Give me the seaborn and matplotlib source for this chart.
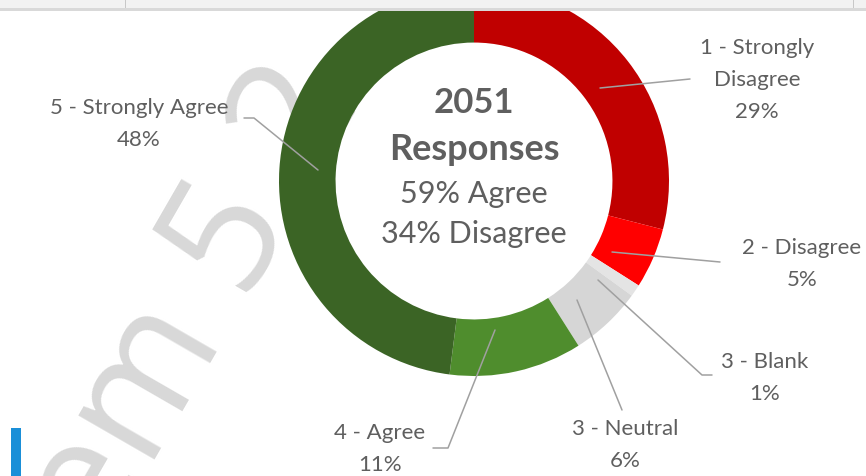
import seaborn as sns
import matplotlib.pyplot as plt
from matplotlib.patches import Rectangle

# survey results, clockwise from 12 o'clock
categories = ['1 - Strongly\nDisagree', '2 - Disagree', '3 - Blank', '3 - Neutral', '4 - Agree', '5 - Strongly Agree']
percents = [29, 5, 1, 6, 11, 48]
colors = ['#C00000', '#FF0000', '#E4E4E4', '#D6D6D6', '#4F8D2D', '#3B6425']
total_responses = 2051
agree_pct = 59
disagree_pct = 34

W, H = 866, 476
sns.set_theme(style='white')
plt.rcParams['font.family'] = ['Lato', 'DejaVu Sans']

fig = plt.figure(figsize=(W / 100, H / 100), dpi=100)
ax = fig.add_axes([0, 0, 1, 1])

def py(y):
    # picture y (from top) -> data y
    return H - y

# watermark behind the chart
ax.text(168, py(351), 'Item 5.2', rotation=60, rotation_mode='anchor',
        ha='center', va='center', fontsize=118, color='#D8D8D8', zorder=0,
        family=['Open Sans', 'DejaVu Sans'])

cx, cy, r = 474, 181, 195
ax.pie(percents, colors=colors, startangle=90, counterclock=False,
       center=(cx, py(cy)), radius=r, frame=True,
       wedgeprops=dict(width=r * 0.29, edgecolor='none', zorder=2))
ax.set_xlim(0, W)
ax.set_ylim(0, H)
ax.set_aspect('equal')
ax.axis('off')

grey = '#5F5F5F'
ax.text(cx, py(103), str(total_responses), ha='center', va='center', fontsize=25, fontweight='bold', color=grey)
ax.text(cx, py(150), 'Responses', ha='center', va='center', fontsize=26, fontweight='bold', color=grey)
ax.text(cx, py(194), f'{agree_pct}% Agree', ha='center', va='center', fontsize=22, color=grey)
ax.text(cx, py(234), f'{disagree_pct}% Disagree', ha='center', va='center', fontsize=22, color=grey)

# labels with leader lines
lab_kw = dict(fontsize=16, color=grey, linespacing=1.75, zorder=4)
line_kw = dict(color='#A0A0A0', lw=1.1, zorder=3)
labels = [f'{c}\n{p}%' for c, p in zip(categories, percents)]

ax.text(757, py(80), labels[0], ha='center', va='center', **lab_kw)
ax.plot([600, 690], [py(88), py(79)], **line_kw)

ax.text(802, py(264), labels[1], ha='center', va='center', **lab_kw)
ax.plot([612, 720], [py(252), py(262)], **line_kw)

ax.text(765, py(378), labels[2], ha='center', va='center', **lab_kw)
ax.plot([598, 702, 712], [py(280), py(375), py(375)], **line_kw)

ax.text(625, py(445), labels[3], ha='center', va='center', **lab_kw)
ax.plot([577, 622], [py(300), py(410)], **line_kw)

ax.text(380, py(449), labels[4], ha='center', va='center', **lab_kw)
ax.plot([495, 448, 433], [py(330), py(448), py(448)], **line_kw)

ax.text(139, py(124), labels[5], ha='center', va='center', **lab_kw)
ax.plot([244, 254, 318], [py(118), py(118), py(170)], **line_kw)

# top bar of the slide
fig.patches.append(Rectangle((0, 1 - 8 / H), 1, 8 / H, transform=fig.transFigure,
                             facecolor='#F2F2F2', edgecolor='none', zorder=10))
fig.patches.append(Rectangle((0, 1 - 11 / H), 1, 3 / H, transform=fig.transFigure,
                             facecolor='#D9D9D9', edgecolor='none', zorder=10))
for xv in (125, 853):
    fig.patches.append(Rectangle((xv / W, 1 - 8 / H), 1.2 / W, 8 / H, transform=fig.transFigure,
                                 facecolor='#C8C8C8', edgecolor='none', zorder=11))
# blue corner shape
fig.patches.append(Rectangle((11 / W, 0), 10 / W, 48 / H, transform=fig.transFigure,
                             facecolor='#1A8FD8', edgecolor='none', zorder=10))

fig.savefig('out.png', dpi=100)
